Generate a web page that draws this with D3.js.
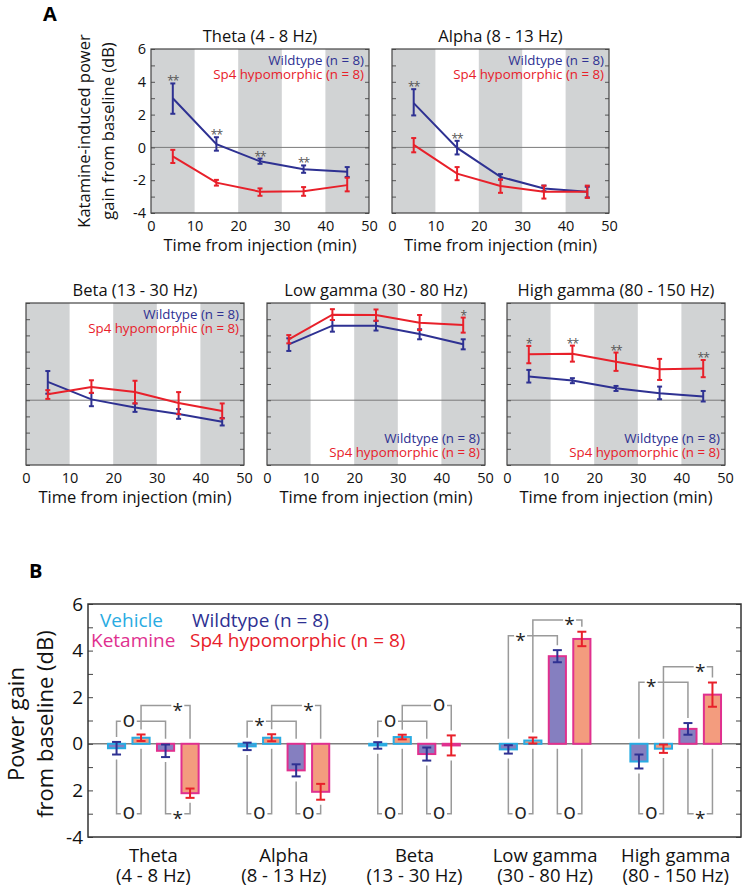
<!DOCTYPE html>
<html><head><meta charset="utf-8">
<script src="https://cdn.jsdelivr.net/npm/d3@7"></script>
<style>body{margin:0;background:#fff} text{font-family:"Open Sans",sans-serif}</style>
</head><body>
<svg id="c" width="747" height="893" xmlns="http://www.w3.org/2000/svg"></svg>
<script>
// ---------------- DATA: panel A ----------------
const times = [5, 15, 25, 35, 45];
const xTicksA = [0, 10, 20, 30, 40, 50];
const yTicksA = [-4, -2, 0, 2, 4, 6];
const grayBands = [[0, 10], [20, 30], [40, 50]];
const bandTitles = ["Theta (4 - 8 Hz)", "Alpha (8 - 13 Hz)", "Beta (13 - 30 Hz)", "Low gamma (30 - 80 Hz)", "High gamma (80 - 150 Hz)"];
const seriesNames = ["Wildtype (n = 8)", "Sp4 hypomorphic (n = 8)"];

const wtMean = [
  [3.0, 0.2, -0.85, -1.33, -1.48],
  [2.7, -0.03, -1.8, -2.5, -2.7],
  [1.13, 0.05, -0.45, -0.85, -1.33],
  [3.45, 4.6, 4.6, 4.09, 3.45],
  [1.46, 1.21, 0.74, 0.43, 0.23]
];
const wtLo = [
  [2.05, -0.2, -1.0, -1.55, -1.8],
  [1.95, -0.43, -1.97, -2.67, -3.05],
  [0.4, -0.37, -0.72, -1.15, -1.56],
  [3.04, 4.23, 4.3, 3.76, 3.14],
  [1.09, 1.05, 0.57, 0.06, -0.08]
];
const wtHi = [
  [3.9, 0.62, -0.68, -1.1, -1.2],
  [3.55, 0.4, -1.63, -2.33, -2.4],
  [1.8, 0.45, -0.2, -0.55, -1.1],
  [3.82, 4.95, 4.9, 4.38, 3.76],
  [1.87, 1.36, 0.88, 0.84, 0.57]
];
const spMean = [
  [-0.55, -2.15, -2.7, -2.68, -2.3],
  [0.15, -1.6, -2.35, -2.7, -2.7],
  [0.37, 0.82, 0.5, -0.17, -0.66],
  [3.76, 5.28, 5.26, 4.78, 4.64],
  [2.83, 2.87, 2.38, 1.91, 1.95]
];
const spLo = [
  [-0.95, -2.33, -2.95, -2.95, -2.68],
  [-0.3, -2.0, -2.77, -3.12, -3.08],
  [0.08, 0.45, -0.2, -0.86, -1.13],
  [3.51, 4.95, 4.9, 4.33, 4.17],
  [2.28, 2.38, 1.81, 1.25, 1.42]
];
const spHi = [
  [-0.15, -1.98, -2.5, -2.42, -1.85],
  [0.57, -1.2, -1.95, -2.33, -2.33],
  [0.62, 1.23, 1.2, 0.5, -0.2],
  [4.02, 5.62, 5.6, 5.26, 5.1],
  [3.35, 3.37, 2.94, 2.55, 2.48]
];
const starsA = [
  ["**", "**", "**", "**", ""],
  ["**", "**", "", "", ""],
  ["", "", "", "", ""],
  ["", "", "", "", "*"],
  ["*", "**", "**", "", "**"]
];

// ---------------- DATA: panel B ----------------
const groups = ["Theta", "Alpha", "Beta", "Low gamma", "High gamma"];
const groupRanges = ["(4 - 8 Hz)", "(8 - 13 Hz)", "(13 - 30 Hz)", "(30 - 80 Hz)", "(80 - 150 Hz)"];
const conditions = ["wtVeh", "spVeh", "wtKet", "spKet"];
const wtVeh = [-0.19, -0.11, -0.07, -0.24, -0.76];
const wtVehErr = [0.27, 0.16, 0.14, 0.18, 0.3];
const spVeh = [0.26, 0.26, 0.29, 0.14, -0.21];
const spVehErr = [0.14, 0.15, 0.1, 0.13, 0.18];
const wtKet = [-0.3, -1.14, -0.44, 3.76, 0.64];
const wtKetErr = [0.27, 0.26, 0.28, 0.26, 0.25];
const spKet = [-2.12, -2.06, -0.07, 4.5, 2.11];
const spKetErr = [0.2, 0.34, 0.43, 0.31, 0.52];
const yTicksB = [-4, -2, 0, 2, 4, 6];
const yTickLabelsB = ["-4", "2", "0", "2", "4", "6"];
const top1Level = [0.97, 0.97, 0.97, 4.64, 2.64];
const top2Level = [1.64, 1.64, 1.64, 5.31, 3.31];
const bottomLevel = -3;
const top1Sym = ["o", "*", "o", "*", "*"];
const top2Sym = ["*", "*", "o", "*", "*"];
const bot1Sym = ["o", "o", "o", "o", "o"];
const bot2Sym = ["*", "o", "o", "o", "*"];
const legendB = ["Vehicle", "Ketamine", "Wildtype (n = 8)", "Sp4 hypomorphic (n = 8)"];

// ---------------- STYLE ----------------
const NAVY = "#2e3192", RED = "#e8202a", GRAY = "#d1d3d4";
const CYAN = "#29abe2", MAGENTA = "#e0308f", PURPLE = "#857fc0", SALMON = "#f39c7e";

const svg = d3.select("#c");

// Panel letters
svg.append("text").attr("x", 43).attr("y", 21).attr("font-size", 20).attr("font-weight", "bold").text("A");
svg.append("text").attr("x", 29).attr("y", 578).attr("font-size", 20).attr("font-weight", "bold").text("B");

// ---------------- PANEL A ----------------
const panelBoxes = [
  [151, 49, 369, 213], [392, 49, 609, 213],
  [26, 303, 244, 465], [267, 303, 485, 465], [507, 303, 725, 465]
];
const legendAtTop = [true, true, true, false, false];

panelBoxes.forEach((b, i) => {
  const [x0, y0, x1, y1] = b;
  const x = d3.scaleLinear().domain([0, 50]).range([x0, x1]);
  const y = d3.scaleLinear().domain([-4, 6]).range([y1, y0]);
  const g = svg.append("g");
  g.selectAll("rect.band").data(grayBands).join("rect")
    .attr("x", d => x(d[0])).attr("width", d => x(d[1]) - x(d[0]))
    .attr("y", y0).attr("height", y1 - y0).attr("fill", GRAY);
  g.append("line").attr("x1", x0).attr("x2", x1).attr("y1", y(0)).attr("y2", y(0))
    .attr("stroke", "#7a7a7a").attr("stroke-width", 1);
  const tl = g.append("g").attr("transform", `translate(${x0},0)`)
    .call(d3.axisRight(y).tickValues(d3.range(-4, 7)).tickSize(4).tickFormat(""));
  const tr = g.append("g").attr("transform", `translate(${x1},0)`)
    .call(d3.axisLeft(y).tickValues(d3.range(-4, 7)).tickSize(4).tickFormat(""));
  [tl, tr].forEach(a => { a.select(".domain").remove(); a.selectAll("line").attr("stroke", "#555"); });
  g.append("rect").attr("x", x0).attr("y", y0).attr("width", x1 - x0).attr("height", y1 - y0)
    .attr("fill", "none").attr("stroke", "#444").attr("stroke-width", 1.2);

  const xa = g.append("g").attr("transform", `translate(0,${y1})`)
    .call(d3.axisBottom(x).tickValues(xTicksA).tickSize(0).tickPadding(8).tickFormat(d => String(d)));
  xa.select(".domain").remove();
  xa.selectAll("text").attr("font-size", 14.5).attr("fill", "#111").style("font-family", '"Open Sans",sans-serif');
  if (i === 0) {
    const ya = g.append("g").attr("transform", `translate(${x0},0)`)
      .call(d3.axisLeft(y).tickValues(yTicksA).tickSize(0).tickPadding(5).tickFormat(d => String(d)));
    ya.select(".domain").remove();
    ya.selectAll("text").attr("font-size", 14.5).attr("fill", "#111").style("font-family", '"Open Sans",sans-serif');
  }
  g.append("text").attr("x", (x0 + x1) / 2).attr("y", y0 - 7).attr("text-anchor", "middle")
    .attr("font-size", 16.5).attr("fill", "#111").text(bandTitles[i]);
  g.append("text").attr("x", (x0 + x1) / 2).attr("y", y1 + 37.5).attr("text-anchor", "middle")
    .attr("font-size", 16.5).attr("fill", "#111").text("Time from injection (min)");

  const ser = [
    { m: wtMean[i], lo: wtLo[i], hi: wtHi[i], c: NAVY },
    { m: spMean[i], lo: spLo[i], hi: spHi[i], c: RED }
  ];
  const line = d3.line().x((d, k) => x(times[k])).y(d => y(d));
  ser.forEach(s => {
    g.append("path").attr("d", line(s.m)).attr("fill", "none").attr("stroke", s.c).attr("stroke-width", 2);
    const eb = g.append("g").attr("stroke", s.c).attr("stroke-width", 2);
    times.forEach((t, k) => {
      eb.append("line").attr("x1", x(t)).attr("x2", x(t)).attr("y1", y(s.lo[k])).attr("y2", y(s.hi[k]));
      eb.append("line").attr("x1", x(t) - 2.5).attr("x2", x(t) + 2.5).attr("y1", y(s.lo[k])).attr("y2", y(s.lo[k]));
      eb.append("line").attr("x1", x(t) - 2.5).attr("x2", x(t) + 2.5).attr("y1", y(s.hi[k])).attr("y2", y(s.hi[k]));
    });
  });
  times.forEach((t, k) => {
    if (!starsA[i][k]) return;
    const top = Math.max(wtHi[i][k], spHi[i][k]);
    g.append("text").attr("x", x(t)).attr("y", y(top) + 2).attr("text-anchor", "middle")
      .attr("font-size", 12).attr("letter-spacing", -1).attr("fill", "#555").text(starsA[i][k]);
  });
  const ly = legendAtTop[i] ? [y0 + 16, y0 + 30] : [y1 - 22, y1 - 8];
  g.append("text").attr("x", x1 - 5).attr("y", ly[0]).attr("text-anchor", "end").attr("font-size", 13.3)
    .attr("fill", NAVY).text(seriesNames[0]);
  g.append("text").attr("x", x1 - 5).attr("y", ly[1]).attr("text-anchor", "end").attr("font-size", 13.3)
    .attr("fill", RED).text(seriesNames[1]);
});

const yt = svg.append("g").attr("transform", "translate(90,131) rotate(-90)");
yt.append("text").attr("x", 0).attr("y", 0).attr("text-anchor", "middle").attr("font-size", 16.5).attr("fill", "#111").text("Katamine-induced power");
yt.append("text").attr("x", 0).attr("y", 23.5).attr("text-anchor", "middle").attr("font-size", 16.5).attr("fill", "#111").text("gain from baseline (dB)");

// ---------------- PANEL B ----------------
const B = { x0: 88, y0: 604, x1: 741, y1: 837 };
const gx = d3.scaleBand().domain(groups).range([B.x0, B.x1]).padding(0);
const cx = d3.scaleBand().domain(conditions).range([-49, 49]).paddingInner(0.3).paddingOuter(0.15);
const yB = d3.scaleLinear().domain([-4, 6]).range([B.y1, B.y0]);
const gB = svg.append("g");

gB.append("rect").attr("x", B.x0).attr("y", B.y0).attr("width", B.x1 - B.x0).attr("height", B.y1 - B.y0).attr("fill", "#fff");
gB.append("line").attr("x1", B.x0).attr("x2", B.x1).attr("y1", yB(0)).attr("y2", yB(0)).attr("stroke", "#808080").attr("stroke-width", 1.5);

const condVals = { wtVeh, spVeh, wtKet, spKet };
const condErr = { wtVeh: wtVehErr, spVeh: spVehErr, wtKet: wtKetErr, spKet: spKetErr };
const condFill = { wtVeh: PURPLE, spVeh: SALMON, wtKet: PURPLE, spKet: SALMON };
const condStroke = { wtVeh: CYAN, spVeh: CYAN, wtKet: MAGENTA, spKet: MAGENTA };
const condErrColor = { wtVeh: NAVY, spVeh: RED, wtKet: NAVY, spKet: RED };

const barData = [];
groups.forEach((gname, gi) => conditions.forEach(c => barData.push({ gname, gi, c, v: condVals[c][gi], e: condErr[c][gi] })));
const barCx = d => gx(d.gname) + gx.bandwidth() / 2 + cx(d.c) + cx.bandwidth() / 2;

const bracketG = gB.append("g").attr("fill", "none").attr("stroke", "#9a9a9a").attr("stroke-width", 1.5);
const symG = gB.append("g");
function upperPx(gi, c) { const v = condVals[c][gi], e = condErr[c][gi]; return yB(Math.max(0, v, v + e)) - 5; }
function lowerPx(gi, c) { const v = condVals[c][gi], e = condErr[c][gi]; return yB(Math.min(0, v, v - e)) + 5; }
function bracket(gi, a, b, symBetween, level, sym, top) {
  const gname = groups[gi];
  const xa = barCx({ gname, c: conditions[a] }), xb = barCx({ gname, c: conditions[b] });
  const xs = (barCx({ gname, c: conditions[symBetween[0]] }) + barCx({ gname, c: conditions[symBetween[1]] })) / 2;
  const yl = yB(level);
  const gap = sym === "o" ? 8 : 6.5;
  const ea = top ? upperPx(gi, conditions[a]) : lowerPx(gi, conditions[a]);
  const ebb = top ? upperPx(gi, conditions[b]) : lowerPx(gi, conditions[b]);
  const p = d3.path();
  p.moveTo(xa, ea); p.lineTo(xa, yl);
  if (xs - gap > xa) p.lineTo(xs - gap, yl);
  p.moveTo(xs + gap, yl); p.lineTo(xb, yl); p.lineTo(xb, ebb);
  bracketG.append("path").attr("d", p.toString());
  symG.append("text").attr("x", xs).attr("y", sym === "o" ? yl + 5.5 : yl + 11).attr("text-anchor", "middle")
    .attr("font-size", sym === "o" ? 21 : 19).attr("fill", "#222").text(sym);
}
groups.forEach((gname, gi) => {
  bracket(gi, 0, 2, [0, 1], top1Level[gi], top1Sym[gi], true);
  bracket(gi, 1, 3, [2, 3], top2Level[gi], top2Sym[gi], true);
  bracket(gi, 0, 1, [0, 1], bottomLevel, bot1Sym[gi], false);
  bracket(gi, 2, 3, [2, 3], bottomLevel, bot2Sym[gi], false);
});

gB.selectAll("rect.bar").data(barData).join("rect").attr("class", "bar")
  .attr("x", d => barCx(d) - cx.bandwidth() / 2).attr("width", cx.bandwidth())
  .attr("y", d => Math.min(yB(d.v), yB(0))).attr("height", d => Math.max(1, Math.abs(yB(d.v) - yB(0))))
  .attr("fill", d => condFill[d.c]).attr("stroke", d => condStroke[d.c]).attr("stroke-width", 2);
const ebG = gB.append("g").attr("stroke-width", 2);
barData.forEach(d => {
  const xc = barCx(d), ya = yB(d.v - d.e), yb = yB(d.v + d.e), col = condErrColor[d.c];
  ebG.append("line").attr("x1", xc).attr("x2", xc).attr("y1", ya).attr("y2", yb).attr("stroke", col);
  ebG.append("line").attr("x1", xc - 4.5).attr("x2", xc + 4.5).attr("y1", ya).attr("y2", ya).attr("stroke", col);
  ebG.append("line").attr("x1", xc - 4.5).attr("x2", xc + 4.5).attr("y1", yb).attr("y2", yb).attr("stroke", col);
});

const bl = gB.append("g").attr("transform", `translate(${B.x0},0)`).call(d3.axisRight(yB).tickValues(d3.range(-4, 7)).tickSize(5).tickFormat(""));
const br = gB.append("g").attr("transform", `translate(${B.x1},0)`).call(d3.axisLeft(yB).tickValues(d3.range(-4, 7)).tickSize(5).tickFormat(""));
[bl, br].forEach(a => { a.select(".domain").remove(); a.selectAll("line").attr("stroke", "#444"); });
gB.append("rect").attr("x", B.x0).attr("y", B.y0).attr("width", B.x1 - B.x0).attr("height", B.y1 - B.y0)
  .attr("fill", "none").attr("stroke", "#333").attr("stroke-width", 1.5);
const byl = gB.append("g").attr("transform", `translate(${B.x0},0)`)
  .call(d3.axisLeft(yB).tickValues(yTicksB).tickSize(0).tickPadding(5).tickFormat((d, k) => yTickLabelsB[k]));
byl.select(".domain").remove();
byl.selectAll("text").attr("font-size", 19).attr("fill", "#111").style("font-family", '"Open Sans",sans-serif');

groups.forEach((gname, gi) => {
  const xc = gx(gname) + gx.bandwidth() / 2;
  gB.append("text").attr("x", xc).attr("y", 862).attr("text-anchor", "middle").attr("font-size", 18.5).attr("fill", "#111").text(gname);
  gB.append("text").attr("x", xc).attr("y", 882).attr("text-anchor", "middle").attr("font-size", 18.5).attr("fill", "#111").text(groupRanges[gi]);
});

gB.append("text").attr("x", 100).attr("y", 627).attr("font-size", 19).attr("fill", CYAN).text(legendB[0]);
gB.append("text").attr("x", 91).attr("y", 647).attr("font-size", 19).attr("fill", MAGENTA).text(legendB[1]);
gB.append("text").attr("x", 192).attr("y", 627).attr("font-size", 19).attr("fill", NAVY).text(legendB[2]);
gB.append("text").attr("x", 190).attr("y", 647).attr("font-size", 19).attr("fill", RED).text(legendB[3]);

const ybt = svg.append("g").attr("transform", "translate(24,724) rotate(-90)");
ybt.append("text").attr("x", 0).attr("y", 0).attr("text-anchor", "middle").attr("font-size", 22).attr("fill", "#111").text("Power gain");
ybt.append("text").attr("x", 0).attr("y", 29).attr("text-anchor", "middle").attr("font-size", 22).attr("fill", "#111").text("from baseline (dB)");
</script>
</body></html>
